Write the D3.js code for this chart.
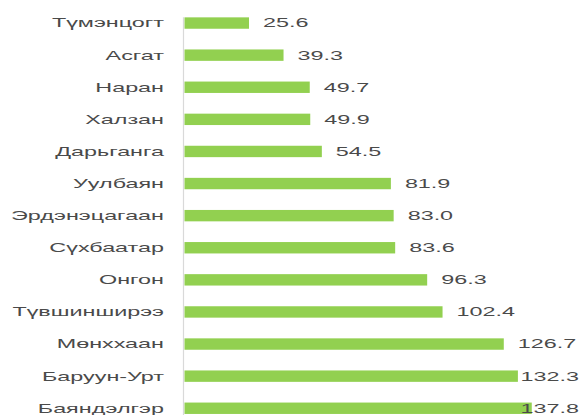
<!DOCTYPE html>
<html>
<head>
<meta charset="utf-8">
<script src="https://cdn.jsdelivr.net/npm/d3@7"></script>
<style>
  body { margin: 0; background: #fff; }
  text { font-family: "Liberation Sans", Arial, sans-serif; fill: #4a4a4a; }
</style>
</head>
<body>
<div class="chart"></div>
<script>
// data
var soums = ['Түмэнцогт', 'Асгат', 'Наран', 'Халзан', 'Дарьганга', 'Уулбаян',
  'Эрдэнэцагаан', 'Сүхбаатар', 'Онгон', 'Түвшинширээ', 'Мөнххаан', 'Баруун-Урт', 'Баяндэлгэр'];
var values = [25.6, 39.3, 49.7, 49.9, 54.5, 81.9, 83.0, 83.6, 96.3, 102.4, 126.7, 132.3, 137.8];

var width = 582,
height = 415,
stretch = 1.9,   // text in the original is drawn wide
fontSize = 12.3;

var rows = soums.map(function(s, i) { return { name: s, val: values[i] }; });

var svg = d3.select("div.chart")
	.append("svg")
	.attr("width", width)
	.attr("height", height);

var x = d3.scaleLinear()
	.domain([0, 140])
	.range([184.5, 537.3]);

var y = d3.scaleBand()
	.domain(soums)
	.range([7, 424.3])
	.paddingInner(0.645)
	.paddingOuter(0.3225);

// axis line
svg.append("line")
	.attr("x1", 183.5)
	.attr("x2", 183.5)
	.attr("y1", y(soums[0]))
	.attr("y2", height)
	.attr("stroke", "#d9d9d9")
	.attr("stroke-width", 1.2);

svg.selectAll(".bar")
	.data(rows)
	.enter().append("rect")
	.attr("class", "bar")
	.attr("x", x(0))
	.attr("y", function(d) { return y(d.name); })
	.attr("width", function(d) { return x(d.val) - x(0); })
	.attr("height", y.bandwidth())
	.attr("fill", "#92d050");

// category labels
svg.selectAll(".cat")
	.data(rows)
	.enter().append("text")
	.attr("class", "cat")
	.attr("text-anchor", "end")
	.attr("dy", "0.36em")
	.style("font-size", fontSize + "px")
	.attr("transform", function(d) {
		return "translate(164," + (y(d.name) + y.bandwidth() / 2) + ") scale(" + stretch + ",1)";
	})
	.text(function(d) { return d.name; });

// value labels, pulled back in when they would run off the edge
svg.selectAll(".val")
	.data(rows)
	.enter().append("text")
	.attr("class", "val")
	.attr("dy", "0.36em")
	.style("font-size", fontSize + "px")
	.text(function(d) { return d.val.toFixed(1); })
	.attr("transform", function(d) {
		var w = this.getComputedTextLength() * stretch;
		var px = Math.min(x(d.val) + 14, width - 3 - w);
		return "translate(" + px + "," + (y(d.name) + y.bandwidth() / 2) + ") scale(" + stretch + ",1)";
	});
</script>
</body>
</html>
